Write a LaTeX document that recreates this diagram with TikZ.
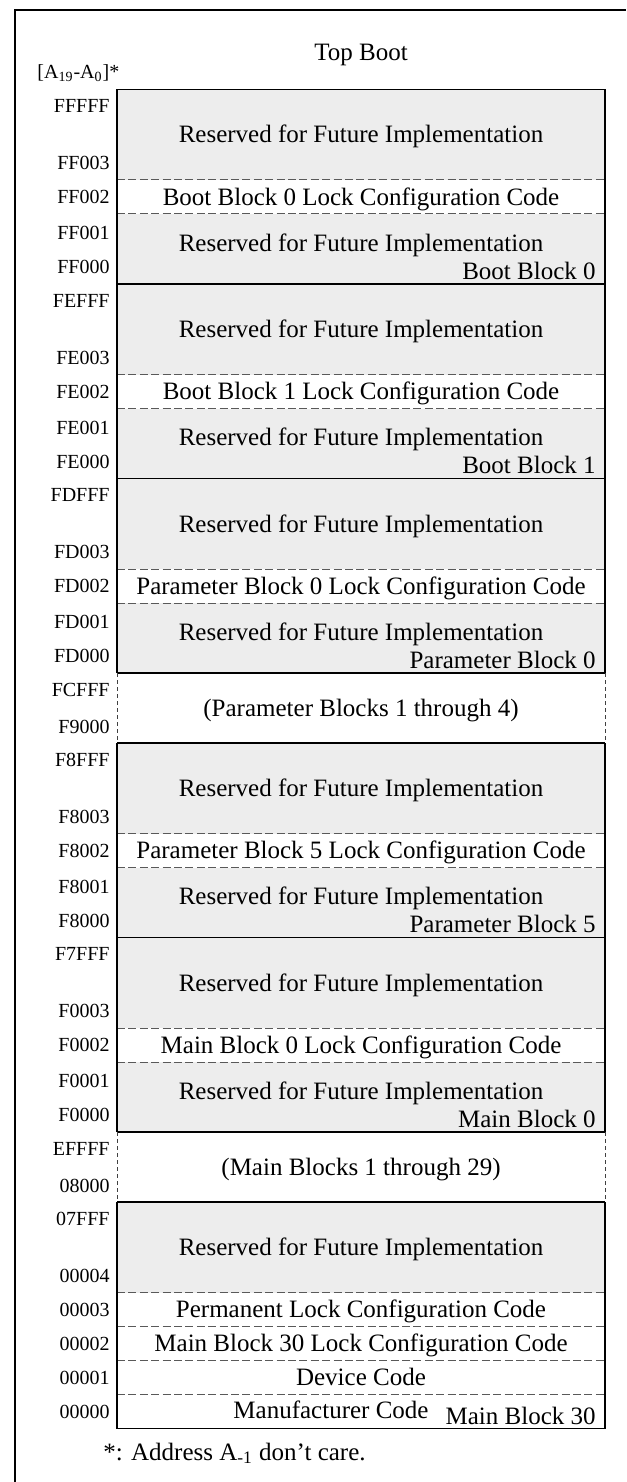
\documentclass[tikz,border=0pt]{standalone}
\usepackage{fontspec}
\setmainfont{Liberation Serif}
\tikzset{
  frame/.style={draw=black, line width=0.65pt},
  bound/.style={draw=black, line width=0.6pt},
  sepline/.style={draw=black!65, line width=0.5pt, dash pattern=on 4pt off 1.7pt},
  sideline/.style={draw=black!75, line width=0.5pt, dash pattern=on 2pt off 1.5pt},
  resfill/.style={fill=black!7},
  addr/.style={anchor=east, inner sep=0pt, text height=6.6pt, text depth=0pt, font=\fontsize{10}{12}\selectfont},
  cell/.style={inner sep=0pt, text height=8.25pt, text depth=0pt, font=\fontsize{12.5}{15}\selectfont},
  blk/.style={cell, anchor=east},
}
\begin{document}
\begin{tikzpicture}[x=0.5pt,y=-0.5pt]
\useasboundingbox (0,0) rectangle (626,1482);
\draw[frame] (15,1482) -- (15,10) -- (626,10);

% reserved (grey) areas
\fill[resfill] (117,89.5) rectangle (605,180);
\fill[resfill] (117,214) rectangle (605,374.5);
\fill[resfill] (117,408.5) rectangle (605,569);
\fill[resfill] (117,603) rectangle (605,673);
\fill[resfill] (117,743) rectangle (605,833.5);
\fill[resfill] (117,867.5) rectangle (605,1028);
\fill[resfill] (117,1062) rectangle (605,1132);
\fill[resfill] (117,1202) rectangle (605,1292.5);

% separators inside a block
\draw[sepline] (117,180) -- (605,180) (117,214) -- (605,214)
  (117,374.5) -- (605,374.5) (117,408.5) -- (605,408.5)
  (117,569) -- (605,569) (117,603) -- (605,603)
  (117,833.5) -- (605,833.5) (117,867.5) -- (605,867.5)
  (117,1028) -- (605,1028) (117,1062) -- (605,1062)
  (117,1292.5) -- (605,1292.5) (117,1326.5) -- (605,1326.5)
  (117,1360.5) -- (605,1360.5) (117,1394.5) -- (605,1394.5);

% block borders
\draw[bound] (117,673) -- (117,89.5) -- (605,89.5) -- (605,673);
\draw[bound] (117,1132) -- (117,743) (605,743) -- (605,1132);
\draw[bound] (117,1202) -- (117,1428.5) -- (605,1428.5) -- (605,1202);
\draw[bound] (117,284) -- (605,284) (117,478.5) -- (605,478.5)
  (117,673) -- (605,673) (117,743) -- (605,743)
  (117,937.5) -- (605,937.5) (117,1132) -- (605,1132)
  (117,1202) -- (605,1202);
\draw[sideline] (117,673) -- (117,743) (605,673) -- (605,743);
\draw[sideline] (117,1132) -- (117,1202) (605,1132) -- (605,1202);

% header
\node[cell] (title) at (361,52) {Top Boot};
\node[addr, anchor=west] (range) at (37,72) {[A\textsubscript{19}-A\textsubscript{0}]*};

% boot block 0
\node[addr] (a-FFFFF) at (110,106) {FFFFF};
\node[addr] (a-FF003) at (110,163) {FF003};
\node[cell] (res-1a) at (361,134.75) {Reserved for Future Implementation};
\node[addr] (a-FF002) at (110,197) {FF002};
\node[cell] (lock-bb0) at (361,197) {Boot Block 0 Lock Configuration Code};
\node[addr] (a-FF001) at (110,233) {FF001};
\node[addr] (a-FF000) at (110,267) {FF000};
\node[cell] (res-1b) at (361,243) {Reserved for Future Implementation};
\node[blk] (bb0) at (596,271) {Boot Block 0};

% boot block 1
\node[addr] (a-FEFFF) at (110,300.5) {FEFFF};
\node[addr] (a-FE003) at (110,357.5) {FE003};
\node[cell] (res-2a) at (361,329.25) {Reserved for Future Implementation};
\node[addr] (a-FE002) at (110,391.5) {FE002};
\node[cell] (lock-bb1) at (361,391.5) {Boot Block 1 Lock Configuration Code};
\node[addr] (a-FE001) at (110,427.5) {FE001};
\node[addr] (a-FE000) at (110,461.5) {FE000};
\node[cell] (res-2b) at (361,437.5) {Reserved for Future Implementation};
\node[blk] (bb1) at (596,465.5) {Boot Block 1};

% parameter block 0
\node[addr] (a-FDFFF) at (110,495) {FDFFF};
\node[addr] (a-FD003) at (110,552) {FD003};
\node[cell] (res-3a) at (361,523.75) {Reserved for Future Implementation};
\node[addr] (a-FD002) at (110,586) {FD002};
\node[cell] (lock-pb0) at (361,586) {Parameter Block 0 Lock Configuration Code};
\node[addr] (a-FD001) at (110,622) {FD001};
\node[addr] (a-FD000) at (110,656) {FD000};
\node[cell] (res-3b) at (361,632) {Reserved for Future Implementation};
\node[blk] (pb0) at (596,660) {Parameter Block 0};

% parameter blocks 1-4
\node[addr] (a-FCFFF) at (110,690) {FCFFF};
\node[addr] (a-F9000) at (110,727) {F9000};
\node[cell] (pb1to4) at (361,708) {(Parameter Blocks 1 through 4)};

% parameter block 5
\node[addr] (a-F8FFF) at (110,759.5) {F8FFF};
\node[addr] (a-F8003) at (110,816.5) {F8003};
\node[cell] (res-4a) at (361,788.25) {Reserved for Future Implementation};
\node[addr] (a-F8002) at (110,850.5) {F8002};
\node[cell] (lock-pb5) at (361,850.5) {Parameter Block 5 Lock Configuration Code};
\node[addr] (a-F8001) at (110,886.5) {F8001};
\node[addr] (a-F8000) at (110,920.5) {F8000};
\node[cell] (res-4b) at (361,896.5) {Reserved for Future Implementation};
\node[blk] (pb5) at (596,924.5) {Parameter Block 5};

% main block 0
\node[addr] (a-F7FFF) at (110,954) {F7FFF};
\node[addr] (a-F0003) at (110,1011) {F0003};
\node[cell] (res-5a) at (361,982.75) {Reserved for Future Implementation};
\node[addr] (a-F0002) at (110,1045) {F0002};
\node[cell] (lock-mb0) at (361,1045) {Main Block 0 Lock Configuration Code};
\node[addr] (a-F0001) at (110,1081) {F0001};
\node[addr] (a-F0000) at (110,1115) {F0000};
\node[cell] (res-5b) at (361,1091) {Reserved for Future Implementation};
\node[blk] (mb0) at (596,1119) {Main Block 0};

% main blocks 1-29
\node[addr] (a-EFFFF) at (110,1149) {EFFFF};
\node[addr] (a-08000) at (110,1186) {08000};
\node[cell] (mb1to29) at (361,1167) {(Main Blocks 1 through 29)};

% main block 30
\node[addr] (a-07FFF) at (110,1218.5) {07FFF};
\node[addr] (a-00004) at (110,1275.5) {00004};
\node[cell] (res-6a) at (361,1247.25) {Reserved for Future Implementation};
\node[addr] (a-00003) at (110,1309.5) {00003};
\node[cell] (perm) at (361,1309.5) {Permanent Lock Configuration Code};
\node[addr] (a-00002) at (110,1343.5) {00002};
\node[cell] (lock-mb30) at (361,1343.5) {Main Block 30 Lock Configuration Code};
\node[addr] (a-00001) at (110,1377.5) {00001};
\node[cell] (dev) at (361,1377.5) {Device Code};
\node[addr] (a-00000) at (110,1411.5) {00000};
\node[cell] (manu) at (331,1410) {Manufacturer Code};
\node[blk] (mb30) at (596,1416.5) {Main Block 30};

\node[cell, anchor=west] (note) at (103,1452) {*: Address A\textsubscript{-1} don't care.};
\end{tikzpicture}
\end{document}
